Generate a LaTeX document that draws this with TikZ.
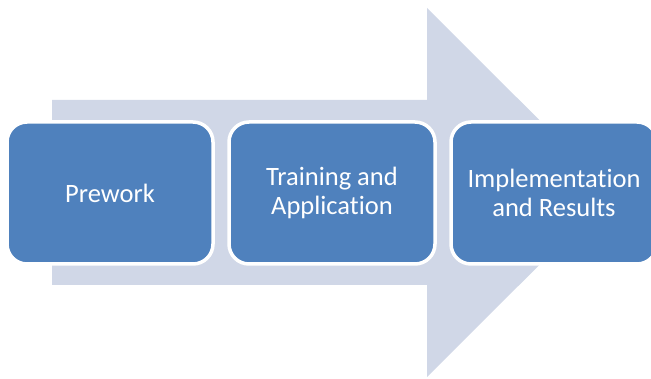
\documentclass[tikz,border=0pt]{standalone}
\usepackage{fontspec}
\setmainfont{Carlito}[RawFeature={-liga}]
\definecolor{arrowfill}{HTML}{D0D7E7}
\definecolor{boxfill}{HTML}{4F81BD}
\tikzset{
  stage/.style={draw=white, line width=3.5pt, fill=boxfill, rounded corners=20pt,
    minimum width=206pt, minimum height=142pt, inner sep=0pt, text=white,
    align=center, font=\fontsize{26.5pt}{29pt}\selectfont},
}
\begin{document}
\begin{tikzpicture}[x=1pt,y=-1pt]
\useasboundingbox (0,0) rectangle (651,379);
\begin{scope}
\clip (0,0) rectangle (651,379);
\fill[arrowfill] (52,100) -- (427,100) -- (427,8) -- (612,192.5) -- (427,377) -- (427,285) -- (52,285) -- cycle;
\node[stage] (p1) at (110,193) {Prework};
\node[stage] (p2) at (332,193) {Training and\\Application};
\node[stage] (p3) at (554,193) {Implementation\\and Results};
\end{scope}
\end{tikzpicture}
\end{document}
